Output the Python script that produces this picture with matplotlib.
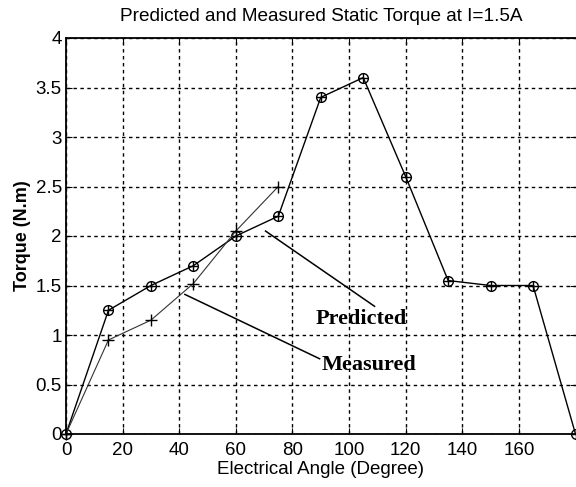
import matplotlib.pyplot as plt

# electrical angle (degree)
angle_pred = [0, 15, 30, 45, 60, 75, 90, 105, 120, 135, 150, 165, 180]
torque_pred = [0, 1.25, 1.5, 1.7, 2.0, 2.2, 3.4, 3.6, 2.6, 1.55, 1.5, 1.5, 0]

angle_meas = [0, 15, 30, 45, 60, 75]
torque_meas = [0, 0.95, 1.15, 1.52, 2.05, 2.5]

x_ticks = [0, 20, 40, 60, 80, 100, 120, 140, 160]
y_ticks = [0, 0.5, 1, 1.5, 2, 2.5, 3, 3.5, 4]

plt.rcParams['font.family'] = ['Liberation Sans', 'DejaVu Sans']

fig = plt.figure(figsize=(5.76, 4.87), dpi=100)
ax = fig.add_axes([66 / 576, 1 - 434 / 487, 509.5 / 576, 396 / 487])

# predicted: circle with plus
ax.plot(angle_pred, torque_pred, color='black', lw=1.0, marker='o',
        ms=7, mfc='none', mec='black', mew=1.0, clip_on=False, zorder=3)
ax.plot(angle_pred, torque_pred, ls='none', marker='+', ms=7,
        mec='black', mew=1.0, clip_on=False, zorder=3)
# measured: plus
ax.plot(angle_meas, torque_meas, color='#333333', lw=0.8, marker='+',
        ms=9, mec='black', mew=1.0, clip_on=False, zorder=3)

# pointer lines and labels
ax.plot([70.5, 109], [2.05, 1.29], color='black', lw=1.1)
ax.plot([42, 89.6], [1.41, 0.76], color='black', lw=1.1)
ax.text(88.3, 1.16, 'Predicted', family=['Liberation Serif'],
        fontweight='bold', fontsize=16, va='center', ha='left')
ax.text(90.3, 0.70, 'Measured', family=['Liberation Serif'],
        fontweight='bold', fontsize=16, va='center', ha='left')

ax.set_xlim(0, 180)
ax.set_ylim(0, 4)
ax.set_xticks(x_ticks)
ax.set_yticks(y_ticks)
ax.set_yticklabels(['0', '0.5', '1', '1.5', '2', '2.5', '3', '3.5', '4'])
ax.grid(True, color='black', ls=(0, (2.5, 2.5)), lw=1.0)
ax.tick_params(direction='in', length=4, labelsize=13.5, top=True, right=True)
ax.tick_params(axis='x', pad=6)
ax.tick_params(axis='y', pad=3)
ax.spines['right'].set_visible(False)
for s in ['left', 'bottom', 'top']:
    ax.spines[s].set_linewidth(1.3)

ax.set_title('Predicted and Measured Static Torque at I=1.5A',
             fontsize=13.7, pad=12)
ax.set_xlabel('Electrical Angle (Degree)', fontsize=13.5, labelpad=1)
ax.set_ylabel('Torque (N.m)', fontsize=13, fontweight='bold', labelpad=3)

fig.savefig('out.png', dpi=100)
